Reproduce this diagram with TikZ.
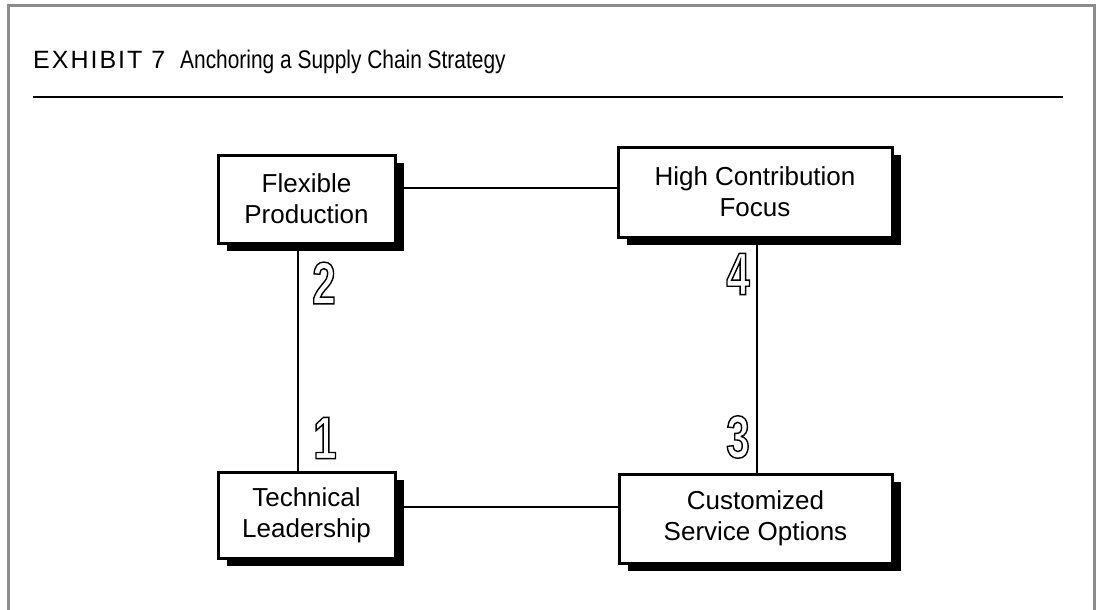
\documentclass[tikz,border=0pt]{standalone}
\usepackage{fontspec}
\setmainfont{Liberation Sans}
\usetikzlibrary{shadows}

% type faces
\newfontfamily\headfamily{Liberation Sans}[LetterSpace=8]
\newfontfamily\condfamily{Liberation Sans}[FakeStretch=0.82]
\newfontfamily\digitfamily{Liberation Sans}[FakeStretch=0.7]
\newcommand\stagefont{\fontsize{26}{31}\selectfont}
\newcommand\exhibitfont{\headfamily\fontsize{25}{30}\selectfont}
\newcommand\headtitlefont{\condfamily\fontsize{25.5}{30}\selectfont}
\newcommand\numfont{\digitfamily\bfseries\fontsize{60}{60}\selectfont}
% hollow (stroked) glyphs
\newcommand\hollow[1]{\special{pdf:literal direct 1 Tr 1.4 w}#1\special{pdf:literal direct 0 Tr 1 w}}

\begin{document}
\begin{tikzpicture}[x=1pt,y=-1pt,
  frame/.style={draw=black!45, line width=3pt},
  stagebox/.style={draw=black, line width=3pt, fill=white, align=center,
    inner sep=0pt, font=\stagefont,
    drop shadow={shadow xshift=9pt, shadow yshift=-8pt, fill=black, opacity=1}},
  link/.style={line width=1.5pt},
  num/.style={inner sep=0pt, font=\numfont}]
\useasboundingbox (0,0) rectangle (1097,610);

% open frame and heading
\draw[frame] (8,610) -- (8,6) -- (1094.5,6) -- (1094.5,610);
\node[anchor=base west, inner sep=0pt, font=\exhibitfont] (exh) at (33,68) {EXHIBIT 7};
\node[anchor=base west, inner sep=0pt, font=\headtitlefont] (title) at (180,68) {Anchoring a Supply Chain Strategy};
\draw[line width=1.5pt] (33,97) -- (1063,97);

% the four anchors
\node[stagebox, minimum width=177pt, minimum height=88pt] (flex) at (306.5,199) {Flexible\\Production};
\node[stagebox, minimum width=274pt, minimum height=90pt] (hcf) at (755,192) {High Contribution\\Focus};
\node[stagebox, minimum width=177pt, minimum height=86pt] (tech) at (306.5,515) {Technical\\Leadership};
\node[stagebox, minimum width=273pt, minimum height=89pt] (cso) at (755.5,518.5) {Customized\\Service Options};

% rows and columns of the links
\coordinate (toprow) at (0,188);
\coordinate (botrow) at (0,507);
\coordinate (leftcol) at (298,0);
\coordinate (rightcol) at (757,0);

\draw[link] (flex.east |- toprow) -- (hcf.west |- toprow);
\draw[link] (tech.east |- botrow) -- (cso.west |- botrow);
\draw[link] (flex.south -| leftcol) -- (tech.north -| leftcol);
\draw[link] (hcf.south -| rightcol) -- (cso.north -| rightcol);

% step numbers
\node[num] (n2) at (324,283) {\hollow{2}};
\node[num] (n1) at (325,438) {\hollow{1}};
\node[num] (n4) at (738,274) {\hollow{4}};
\node[num] (n3) at (738,437) {\hollow{3}};
\end{tikzpicture}
\end{document}
